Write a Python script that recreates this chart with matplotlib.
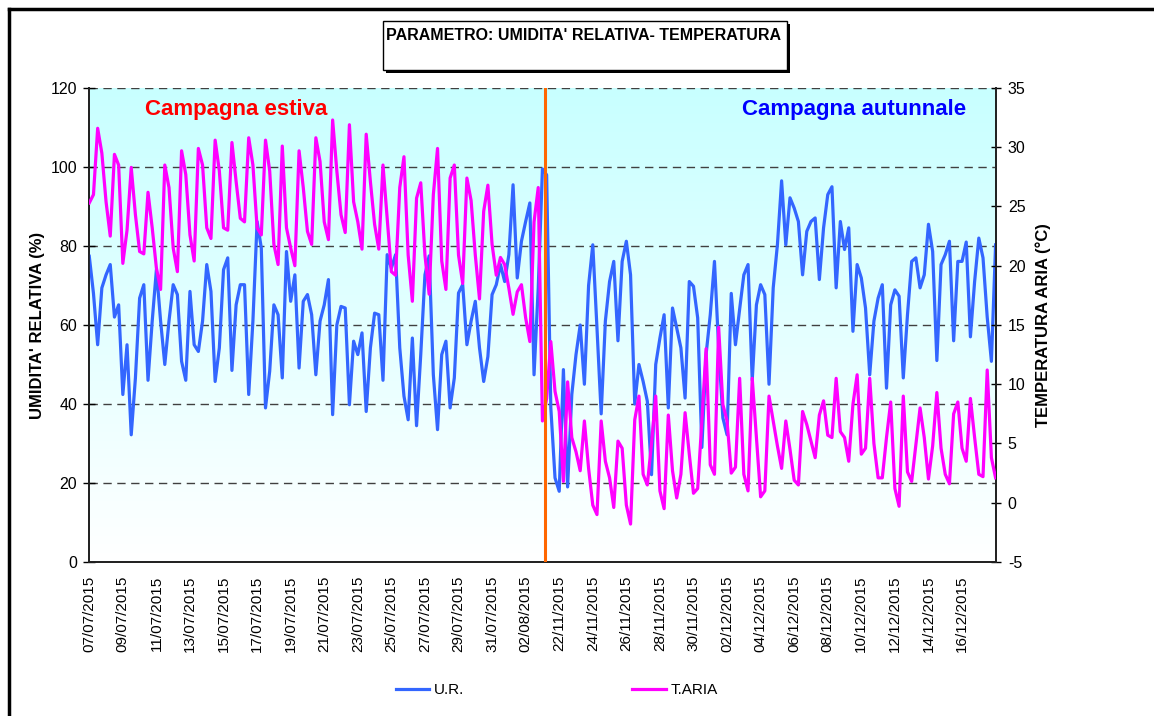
import numpy as np
import matplotlib
matplotlib.use('Agg')
import matplotlib.pyplot as plt
from matplotlib.colors import LinearSegmentedColormap
from matplotlib.lines import Line2D
from matplotlib.patches import Rectangle

plt.rcParams['font.family'] = ['Liberation Sans', 'DejaVu Sans']
plt.rcParams['axes.unicode_minus'] = False

# valori ogni 6 ore (00, 06, 12, 18)
# campagna estiva: dal 07/07/2015
ur_estiva = [
    77.4, 68.0, 55.0, 69.4,  72.7, 75.3, 62.0, 65.1,  42.4, 55.0, 32.2, 46.6,
    66.8, 70.2, 46.0, 61.0,  74.0, 61.0, 50.0, 61.0,  70.2, 67.7, 50.8, 46.0,
    68.5, 55.0, 53.3, 61.0,  75.3, 68.5, 45.7, 54.2,  74.0, 77.0, 48.5, 65.1,
    70.2, 70.2, 42.4, 61.0,  86.2, 79.5, 39.0, 48.3,  65.1, 62.6, 46.6, 78.6,
    66.0, 72.7, 49.1, 66.0,  67.7, 62.6, 47.4, 61.0,  65.1, 71.5, 37.3, 60.0,
    64.7, 64.3, 39.8, 55.9,  52.5, 58.0, 38.1, 54.2,  63.0, 62.6, 46.0, 77.8,
    74.4, 77.8, 54.2, 42.0,  36.0, 56.7, 34.5, 52.5,  72.7, 77.5, 47.4, 33.5,
    52.5, 55.9, 39.0, 46.6,  68.1, 70.2, 55.0, 61.0,  66.0, 54.2, 45.7, 52.0,
    67.7, 70.2, 75.3, 71.0,  77.8, 95.5, 71.9, 81.2,  86.2, 90.9, 47.4, 69.4,
]
t_estiva = [
    25.3, 26.0, 31.6, 29.5,  25.4, 22.5, 29.4, 28.5,  20.2, 23.0, 28.3, 24.3,
    21.2, 21.0, 26.2, 23.2,  19.8, 18.0, 28.5, 26.6,  21.5, 19.5, 29.7, 27.7,
    22.6, 20.4, 29.9, 28.5,  23.2, 22.3, 30.6, 28.0,  23.2, 23.0, 30.4, 27.1,
    24.0, 23.7, 30.8, 28.5,  23.2, 22.6, 30.6, 28.0,  21.8, 20.1, 30.1, 23.2,
    21.5, 20.0, 29.7, 26.6,  22.9, 21.8, 30.8, 28.8,  23.7, 22.2, 32.3, 28.0,
    24.3, 22.8, 31.9, 25.4,  23.7, 21.4, 31.1, 27.1,  23.5, 21.4, 28.5, 24.0,
    19.5, 19.2, 26.6, 29.2,  20.9, 17.0, 25.7, 27.0,  20.9, 17.6, 26.0, 29.9,
    20.4, 18.0, 27.4, 28.5,  20.9, 18.5, 27.4, 25.5,  20.9, 17.2, 24.6, 26.8,
    21.8, 19.2, 20.7, 20.1,  18.1, 15.9, 17.8, 18.4,  15.6, 13.6, 23.7, 26.6,
]
# campagna autunnale: dal 21/11/2015
ur_autunnale = [
    99.5, 98.0, 39.0, 21.3,  17.9, 48.7, 19.0, 42.4,  52.5, 60.0, 45.0, 70.0,
    80.3, 59.2, 37.5, 61.0,  71.0, 76.1, 56.0, 76.1,  81.2, 72.7, 40.0, 50.0,
    45.7, 40.7, 22.1, 50.0,  56.7, 62.6, 39.0, 64.3,  59.2, 54.2, 41.5, 71.0,
    69.8, 61.8, 29.0, 52.5,  62.6, 76.1, 54.2, 36.5,  32.2, 68.0, 55.0, 64.0,
    72.7, 75.3, 46.0, 65.1,  70.2, 67.7, 45.0, 69.4,  80.3, 96.5, 80.3, 92.2,
    89.6, 86.2, 72.7, 83.7,  86.2, 87.1, 71.5, 84.6,  93.0, 95.0, 69.4, 86.2,
    79.1, 84.6, 58.4, 75.3,  71.9, 64.3, 47.4, 61.0,  66.8, 70.2, 44.0, 65.1,
    68.9, 67.3, 46.6, 62.6,  76.1, 77.0, 69.4, 72.7,  85.5, 78.6, 51.0, 75.3,
    77.8, 81.2, 56.0, 76.1,  76.1, 81.0, 57.0, 71.0,  82.0, 77.0, 62.0, 50.8,
    80.3,
]
t_autunnale = [
    6.9, 8.8, 13.6, 9.4,  7.7, 1.8, 10.2, 5.5,  4.3, 2.7, 6.9, 2.9,
    -0.2, -1.0, 6.9, 3.5,  2.1, -0.4, 5.2, 4.6,  -0.2, -1.8, 7.0, 9.0,
    2.4, 1.5, 5.0, 9.0,  1.0, -0.5, 7.4, 2.7,  0.4, 2.4, 7.6, 4.1,
    0.8, 1.2, 6.9, 13.0,  3.2, 2.4, 14.8, 8.3,  6.9, 2.5, 3.0, 10.5,
    2.4, 1.0, 10.5, 5.5,  0.5, 1.0, 9.0, 6.9,  4.8, 2.9, 6.9, 4.5,
    1.9, 1.5, 7.7, 6.6,  5.2, 3.8, 7.4, 8.6,  5.7, 5.5, 10.5, 6.0,
    5.5, 3.5, 8.3, 10.8,  4.1, 4.6, 10.5, 5.0,  2.1, 2.1, 5.5, 8.5,
    1.2, -0.3, 9.0, 2.6,  1.8, 4.9, 8.0, 5.5,  2.0, 4.8, 9.3, 4.6,
    2.4, 1.6, 7.5, 8.5,  4.6, 3.5, 8.8, 5.5,  2.4, 2.2, 11.2, 3.8,
    2.1,
]

etichette = ['07/07/2015', '09/07/2015', '11/07/2015', '13/07/2015', '15/07/2015',
             '17/07/2015', '19/07/2015', '21/07/2015', '23/07/2015', '25/07/2015',
             '27/07/2015', '29/07/2015', '31/07/2015', '02/08/2015',
             '22/11/2015', '24/11/2015', '26/11/2015', '28/11/2015', '30/11/2015',
             '02/12/2015', '04/12/2015', '06/12/2015', '08/12/2015', '10/12/2015',
             '12/12/2015', '14/12/2015', '16/12/2015']

ur = np.array(ur_estiva + ur_autunnale)
ta = np.array(t_estiva + t_autunnale)
x = np.arange(len(ur))
n_est = len(ur_estiva)

fig = plt.figure(figsize=(11.54, 7.16), dpi=100)
ax = fig.add_axes([0.0771, 0.2151, 0.7860, 0.6620])
ax2 = ax.twinx()

# sfondo sfumato
cmap = LinearSegmentedColormap.from_list('sfondo', ['#ffffff', '#c8ffff'])
ax.imshow(np.linspace(0, 1, 256)[:, None], extent=[0, 1, 0, 1], transform=ax.transAxes,
          cmap=cmap, aspect='auto', origin='lower', zorder=0)

ax.plot(x, ur, color='#3366ff', lw=2.3, zorder=3, label='U.R.')
ax2.plot(x, ta, color='#ff00ff', lw=2.3, zorder=3, label='T.ARIA')
ax2.axvline(n_est + 0.6, color='#ff6600', lw=2.2, zorder=5)

ax.set_xlim(-0.07, len(ur) - 0.9)
ax.set_ylim(0, 120)
ax2.set_ylim(-5, 35)
ax.set_yticks(np.arange(0, 121, 20))
ax2.set_yticks(np.arange(-5, 36, 5))
ax.set_xticks(np.arange(len(etichette)) * 8)
ax.set_xticklabels(etichette, rotation=90, fontsize=11)

ax.yaxis.grid(True, linestyle=(0, (6, 4)), color='#404040', lw=1.0, zorder=1)
ax.set_axisbelow(False)

for a in (ax, ax2):
    a.spines['top'].set_visible(False)
    for s in a.spines.values():
        s.set_linewidth(1.3)
        s.set_color('#222222')
ax.tick_params(axis='x', length=0, pad=10)
ax.tick_params(axis='y', direction='inout', length=9, width=1, labelsize=11.5, pad=4)
ax2.tick_params(axis='y', direction='inout', length=7, width=1, labelsize=11.5, pad=5)

ax.set_ylabel("UMIDITA' RELATIVA (%)", fontsize=12, fontweight='bold', labelpad=4)
ax2.set_ylabel('TEMPERATURA ARIA (°C)', fontsize=12, fontweight='bold', rotation=90, labelpad=7)

ax.text(0.062, 0.955, 'Campagna estiva', transform=ax.transAxes, color='#ff0000',
        fontsize=16, fontweight='bold', va='center', ha='left')
ax.text(0.967, 0.955, 'Campagna autunnale', transform=ax.transAxes, color='#0000ff',
        fontsize=16, fontweight='bold', va='center', ha='right')

# riquadro titolo con ombra
W, H = 1154.0, 716.0
fig.add_artist(Rectangle((386 / W, 1 - 73 / H), 404 / W, 49 / H, transform=fig.transFigure,
                         facecolor='black', edgecolor='none'))
fig.add_artist(Rectangle((383 / W, 1 - 70 / H), 404 / W, 49 / H, transform=fig.transFigure,
                         facecolor='white', edgecolor='black', lw=1.0))
fig.text(584 / W, 1 - 35 / H, "PARAMETRO: UMIDITA' RELATIVA- TEMPERATURA", fontsize=11.5,
         fontweight='bold', ha='center', va='center')

# cornice esterna
fig.add_artist(Line2D([8.5 / W, 1.0], [1 - 8.5 / H, 1 - 8.5 / H], color='black', lw=2.5,
                      transform=fig.transFigure))
fig.add_artist(Line2D([8.5 / W, 8.5 / W], [0, 1 - 8.5 / H], color='black', lw=2.5,
                      transform=fig.transFigure))

h1, l1 = ax.get_legend_handles_labels()
h2, l2 = ax2.get_legend_handles_labels()
fig.legend(h1 + h2, l1 + l2, loc='center', bbox_to_anchor=(0.4823, 0.0363), ncol=2,
           frameon=False, fontsize=11, handlelength=2.2, handletextpad=0.3,
           columnspacing=11.0)

fig.savefig('out.png', dpi=100)
